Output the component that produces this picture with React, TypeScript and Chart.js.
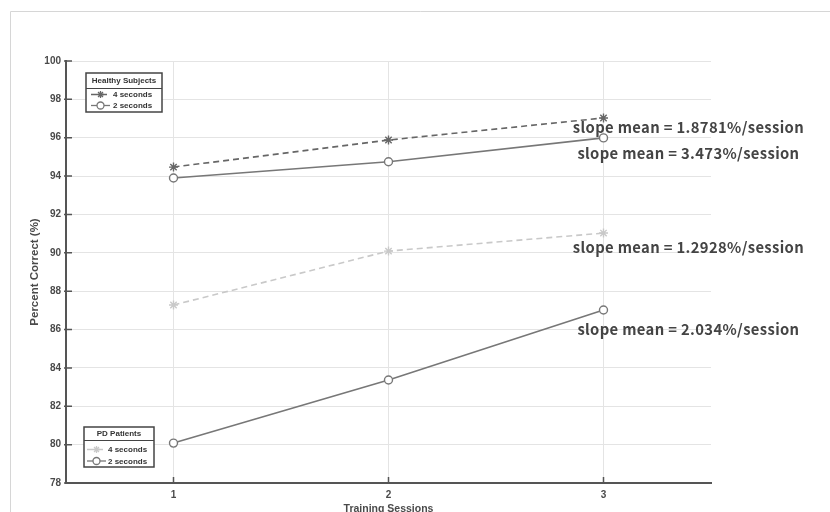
import React, { useEffect, useRef } from "react";
import { Chart, registerables } from "chart.js";

Chart.register(...registerables);

// ---------- data ----------
const sessions = [1, 2, 3];
const healthy4s = [94.47, 95.88, 97.03];
const healthy2s = [93.9, 94.75, 95.99];
const pd4s = [87.28, 90.09, 91.03];
const pd2s = [80.08, 83.37, 87.02];

const xTickValues = [1, 2, 3];
const yMin = 78;
const yMax = 100;
const yStep = 2;

const slopeLabels = [
  "slope mean = 1.8781%/session",
  "slope mean = 3.473%/session",
  "slope mean = 1.2928%/session",
  "slope mean = 2.034%/session",
];
const slopeAtX = [3.395, 3.395, 3.395, 3.395];
const slopeAtY = [96.56, 95.2, 90.3, 86.03];

const legendHealthyTitle = "Healthy Subjects";
const legendPdTitle = "PD Patients";
const legendItemLabels = ["4 seconds", "2 seconds"];

// ---------- styles ----------
const AXIS = "#555";
const GRID = "#e4e4e4";
const TXT = "#4a4a4a";
const TICK_FONT = { family: "'Liberation Sans', Arial, sans-serif", size: 10, weight: "bold" as const };

const toPts = (ys: number[]) => sessions.map((x, i) => ({ x, y: ys[i] }));

function drawMarker(ctx: CanvasRenderingContext2D, style: string, x: number, y: number, r: number, color: string) {
  ctx.save();
  ctx.setLineDash([]);
  ctx.strokeStyle = color;
  ctx.lineWidth = 1.3;
  ctx.beginPath();
  if (style === "circle") {
    ctx.fillStyle = "#fff";
    ctx.arc(x, y, r, 0, Math.PI * 2);
    ctx.fill();
    ctx.stroke();
  } else {
    for (let k = 0; k < 4; k++) {
      const a = (k * Math.PI) / 4;
      ctx.moveTo(x + Math.cos(a) * r, y + Math.sin(a) * r);
      ctx.lineTo(x - Math.cos(a) * r, y - Math.sin(a) * r);
    }
    ctx.stroke();
  }
  ctx.restore();
}

function drawLegend(
  ctx: CanvasRenderingContext2D,
  box: { x: number; y: number; w: number; h: number; sep: number; titleY: number; rows: number[]; s0: number; s1: number; tx: number },
  title: string,
  items: any[]
) {
  ctx.save();
  ctx.fillStyle = "#fff";
  ctx.fillRect(box.x, box.y, box.w, box.h);
  ctx.strokeStyle = "#444";
  ctx.lineWidth = 1.5;
  ctx.strokeRect(box.x, box.y, box.w, box.h);
  ctx.lineWidth = 1;
  ctx.beginPath();
  ctx.moveTo(box.x, box.sep + 0.5);
  ctx.lineTo(box.x + box.w, box.sep + 0.5);
  ctx.stroke();
  ctx.fillStyle = "#333";
  ctx.font = "bold 8px 'Liberation Sans', Arial, sans-serif";
  ctx.textAlign = "center";
  ctx.textBaseline = "middle";
  ctx.fillText(title, box.x + box.w / 2, box.titleY);
  items.forEach((ds, i) => {
    const y = box.rows[i];
    ctx.save();
    ctx.strokeStyle = ds.borderColor;
    ctx.lineWidth = 1.3;
    ctx.setLineDash(ds.borderDash || []);
    ctx.beginPath();
    ctx.moveTo(box.s0, y);
    ctx.lineTo(box.s1, y);
    ctx.stroke();
    ctx.restore();
    drawMarker(ctx, ds.pointStyle, (box.s0 + box.s1) / 2, y, 3.5, ds.borderColor);
    ctx.fillStyle = "#333";
    ctx.textAlign = "left";
    ctx.fillText(legendItemLabels[i], box.tx, y + 0.5);
  });
  ctx.restore();
}

const customPlugin = {
  id: "custom",
  beforeDraw(chart: any) {
    const ctx = chart.ctx as CanvasRenderingContext2D;
    ctx.save();
    ctx.fillStyle = "#fff";
    ctx.fillRect(0, 0, chart.width, chart.height);
    ctx.strokeStyle = "#d6d6d6";
    ctx.lineWidth = 1;
    ctx.beginPath();
    ctx.moveTo(10.5, chart.height);
    ctx.lineTo(10.5, 11.5);
    ctx.lineTo(chart.width, 11.5);
    ctx.stroke();
    ctx.restore();
  },
  afterDraw(chart: any) {
    const ctx = chart.ctx as CanvasRenderingContext2D;
    const xs = chart.scales.x;
    const ys = chart.scales.y;
    const area = chart.chartArea;
    // inward tick marks
    ctx.save();
    ctx.strokeStyle = AXIS;
    ctx.lineWidth = 1.5;
    ctx.beginPath();
    for (let v = yMin; v <= yMax; v += yStep) {
      const py = ys.getPixelForValue(v);
      ctx.moveTo(area.left - 2, py);
      ctx.lineTo(area.left + 6, py);
    }
    xTickValues.forEach((v) => {
      const px = xs.getPixelForValue(v);
      ctx.moveTo(px, area.bottom + 1);
      ctx.lineTo(px, area.bottom - 6);
    });
    ctx.stroke();
    ctx.restore();

    // legends
    const dsets = chart.data.datasets;
    drawLegend(
      ctx,
      { x: 86, y: 73, w: 76, h: 39, sep: 88, titleY: 81, rows: [94.5, 105.5], s0: 91, s1: 110, tx: 113 },
      legendHealthyTitle,
      [dsets[0], dsets[1]]
    );
    drawLegend(
      ctx,
      { x: 84, y: 427, w: 70, h: 40, sep: 440, titleY: 434, rows: [449.5, 461], s0: 87, s1: 106, tx: 108 },
      legendPdTitle,
      [dsets[2], dsets[3]]
    );

    // slope annotations
    ctx.save();
    ctx.fillStyle = "#444";
    ctx.font = "bold 14.8px 'Noto Sans CJK JP', sans-serif";
    (ctx as any).letterSpacing = "0.35px";
    ctx.textAlign = "center";
    ctx.textBaseline = "middle";
    slopeLabels.forEach((t, i) => {
      ctx.fillText(t, xs.getPixelForValue(slopeAtX[i]), ys.getPixelForValue(slopeAtY[i]));
    });
    ctx.restore();
  },
};

export default function App() {
  const ref = useRef<HTMLCanvasElement | null>(null);
  useEffect(() => {
    document.body.style.margin = "0";
    if (!ref.current) return;
    const chart = new Chart(ref.current, {
      type: "line",
      data: {
        datasets: [
          {
            label: "Healthy 4 seconds",
            data: toPts(healthy4s),
            borderColor: "#666",
            borderWidth: 1.6,
            borderDash: [6, 4],
            pointStyle: "star",
            pointRadius: 4.5,
            pointBorderWidth: 1.4,
            pointBackgroundColor: "#666",
          },
          {
            label: "Healthy 2 seconds",
            data: toPts(healthy2s),
            borderColor: "#777",
            borderWidth: 1.6,
            pointStyle: "circle",
            pointRadius: 4,
            pointBorderWidth: 1.4,
            pointBackgroundColor: "#fff",
          },
          {
            label: "PD 4 seconds",
            data: toPts(pd4s),
            borderColor: "#c9c9c9",
            borderWidth: 1.6,
            borderDash: [6, 4],
            pointStyle: "star",
            pointRadius: 4.5,
            pointBorderWidth: 1.4,
            pointBackgroundColor: "#c9c9c9",
          },
          {
            label: "PD 2 seconds",
            data: toPts(pd2s),
            borderColor: "#777",
            borderWidth: 1.6,
            pointStyle: "circle",
            pointRadius: 4,
            pointBorderWidth: 1.4,
            pointBackgroundColor: "#fff",
          },
        ],
      },
      options: {
        animation: false,
        responsive: false,
        layout: { padding: { top: 61, right: 119, bottom: 0, left: 0 } },
        plugins: { legend: { display: false }, tooltip: { enabled: false } },
        scales: {
          x: {
            type: "linear",
            min: 0.5,
            max: 3.5,
            afterBuildTicks: (s: any) => {
              s.ticks = xTickValues.map((v) => ({ value: v }));
            },
            afterFit: (s: any) => {
              s.height = 29;
            },
            grid: { color: GRID, lineWidth: 1, drawTicks: false },
            border: { display: true, color: AXIS, width: 2 },
            ticks: { color: TXT, font: TICK_FONT, padding: 6, callback: (v: any) => String(v) },
            title: {
              display: true,
              text: "Training Sessions",
              color: TXT,
              font: { family: "'Liberation Sans', Arial, sans-serif", size: 10.5, weight: "bold" },
              padding: { top: 0, bottom: -3 },
            },
          },
          y: {
            type: "linear",
            min: yMin,
            max: yMax,
            afterFit: (s: any) => {
              s.width = 66;
            },
            grid: { color: GRID, lineWidth: 1, drawTicks: false },
            border: { display: true, color: AXIS, width: 2 },
            ticks: { stepSize: yStep, color: TXT, font: TICK_FONT, padding: 5 },
            title: {
              display: true,
              text: "Percent Correct (%)",
              color: TXT,
              font: { family: "'Liberation Sans', Arial, sans-serif", size: 11.5, weight: "bold" },
              padding: { top: 28, bottom: 0 },
            },
          },
        },
      },
      plugins: [customPlugin],
    } as any);
    return () => chart.destroy();
  }, []);
  return <canvas ref={ref} width={830} height={512} style={{ display: "block" }} />;
}
